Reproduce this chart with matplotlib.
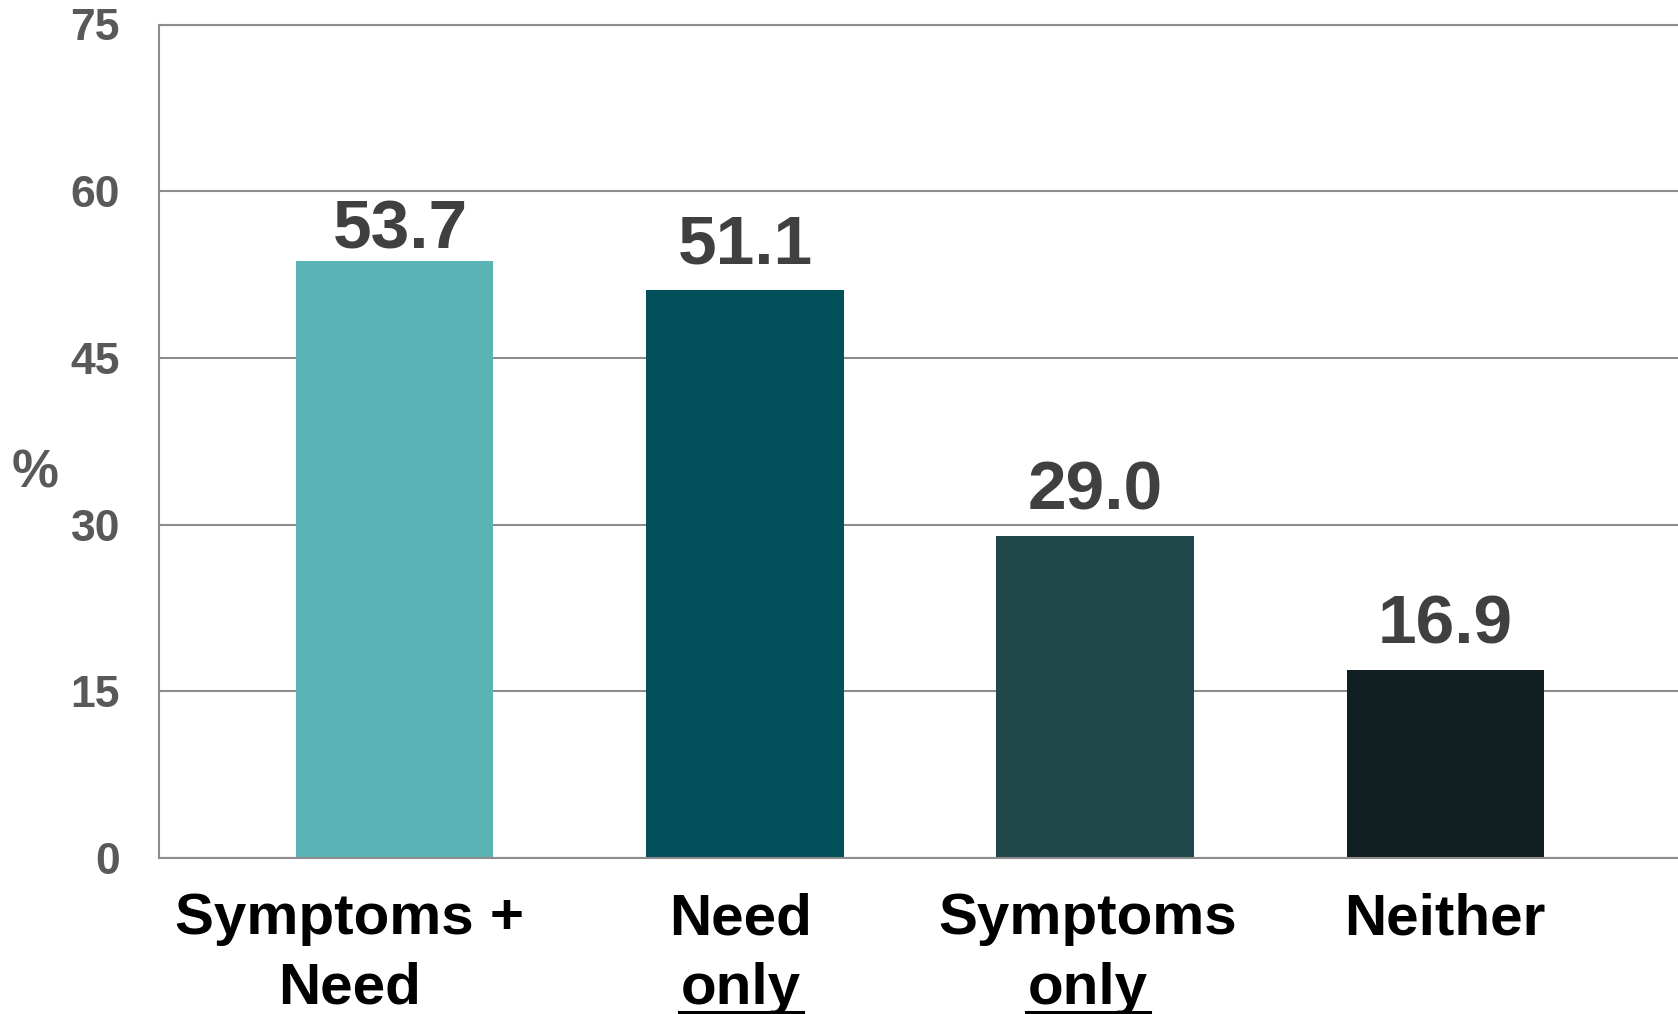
import matplotlib
matplotlib.use("Agg")
import matplotlib.pyplot as plt
from matplotlib.lines import Line2D

# Share of respondents by group
categories = ["Symptoms +\nNeed", "Need\nonly", "Symptoms\nonly", "Neither"]
values = [53.7, 51.1, 29.0, 16.9]
label_shift = [-0.131, -0.012, -0.02, 0.0]   # horizontal nudge of category labels
underlined_words = ["only"]
bar_colors = ["#5AB3B4", "#034F5A", "#20474A", "#111E22"]
y_ticks = [0, 15, 30, 45, 60, 75]

plt.rcParams["font.family"] = ["Liberation Sans", "DejaVu Sans"]
plt.rcParams["font.weight"] = "bold"

W, H = 1678, 1014
fig = plt.figure(figsize=(W / 100, H / 100), dpi=100)
ax = fig.add_axes([159 / W, (H - 858) / H, 1522 / W, (858 - 24.5) / H])

x = list(range(len(categories)))
ax.bar(x, values, width=0.563, color=bar_colors, zorder=3)

ax.set_xlim(-0.674, 3.674)
ax.set_ylim(0, 75)
ax.set_yticks(y_ticks)
ax.set_yticklabels([str(t) for t in y_ticks])
ax.tick_params(axis="y", length=0, pad=28, labelsize=32, labelcolor="#595959")
ax.set_xticks([])

grid_c = "#8C8C8C"
ax.yaxis.grid(True, color=grid_c, linewidth=1.5, zorder=0)
for side in ["left", "bottom", "top"]:
    ax.spines[side].set_color(grid_c)
    ax.spines[side].set_linewidth(1.5)
ax.spines["right"].set_visible(False)
ax.spines["bottom"].set_zorder(4)

# Value labels above bars
for i, v in enumerate(values):
    gap = 9.5 if v > 52 else 19
    dx = 4 if v > 52 else 0
    ax.annotate(f"{v:.1f}", xy=(i, v), xytext=(dx, gap), textcoords="offset points",
                ha="center", va="baseline", fontsize=50, fontweight="bold",
                color="#404040")

# Percent axis label
fig.text(35.5 / W, 1 - 473 / H, "%", ha="center", va="center", fontsize=38,
         fontweight="bold", color="#595959")

# Category labels, one text per line so words can be underlined
line_step = 50      # points between label lines
first_offset = 55   # points from the axis to the first baseline
underlined = []
for i, (cat, dx) in enumerate(zip(categories, label_shift)):
    for j, line in enumerate(cat.split("\n")):
        t = ax.annotate(line, xy=(i + dx, 0), xytext=(0, -(first_offset + j * line_step)),
                        textcoords="offset points", ha="center", va="baseline",
                        fontsize=42, fontweight="bold", color="black",
                        annotation_clip=False)
        if line in underlined_words:
            underlined.append((t, j))

fig.canvas.draw()
renderer = fig.canvas.get_renderer()
axis_px = H - 858
for t, j in underlined:
    bb = t.get_window_extent(renderer)
    base_px = axis_px - (first_offset + j * line_step) * 100 / 72
    yy = base_px - 8
    fig.add_artist(Line2D([(bb.x0 - 2) / W, (bb.x1 + 2) / W], [yy / H, yy / H],
                          color="black", linewidth=2.2, transform=fig.transFigure))

fig.savefig("out.png", dpi=100, facecolor="white")
